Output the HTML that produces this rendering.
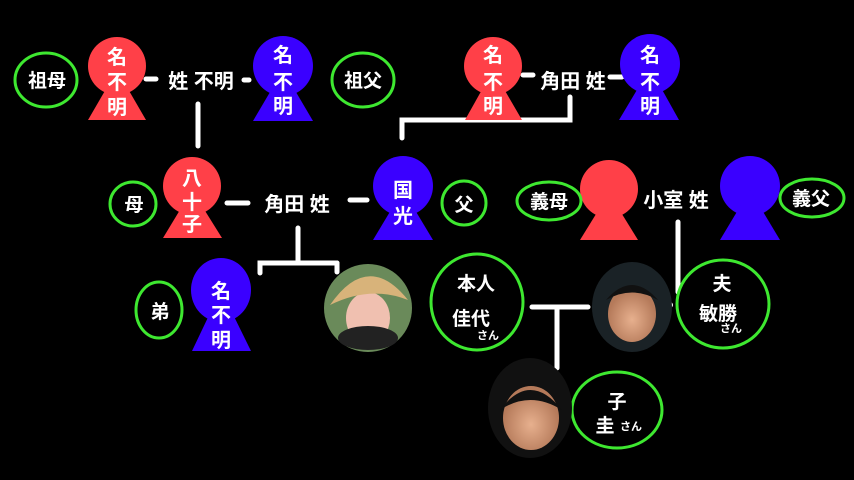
<!DOCTYPE html>
<html><head><meta charset="utf-8"><style>
html,body{margin:0;padding:0;background:#000;}
svg{display:block}
text{font-family:"Liberation Sans","Noto Sans CJK JP",sans-serif;font-weight:bold;fill:#fff;text-anchor:middle}
</style></head><body>
<svg width="854" height="480" viewBox="0 0 854 480" xmlns="http://www.w3.org/2000/svg">
<rect width="854" height="480" fill="#000"/>
<defs>
<radialGradient id="skin" cx="50%" cy="60%" r="50%"><stop offset="0" stop-color="#e7b08e"/><stop offset="1" stop-color="#b57a5a"/></radialGradient>
</defs>
<g stroke="#fff" stroke-width="5" stroke-linecap="round" fill="none">
<line x1="146" y1="79" x2="156" y2="79"/><line x1="244" y1="80" x2="249" y2="80"/>
<line x1="198" y1="104" x2="198" y2="146"/>
<line x1="227" y1="203" x2="248" y2="203"/><line x1="350" y1="200" x2="367" y2="200"/>
<polyline points="402,138 402,120 570,120 570,97"/>
<line x1="523" y1="75" x2="533" y2="75"/><line x1="610" y1="77" x2="622" y2="77"/>
<polyline points="298,228 298,263 260,263 260,273"/><line x1="298" y1="263" x2="337" y2="263"/><line x1="337" y1="263" x2="337" y2="272"/>
<line x1="678" y1="222" x2="678" y2="292"/>
<line x1="532" y1="307" x2="588" y2="307"/><line x1="557" y1="307" x2="557" y2="368"/>
</g>
<circle cx="670" cy="305" r="3" fill="#fff"/>
<g fill="#ff4048">
<circle cx="117" cy="66" r="29"/><polygon points="117,70 88,120 146,120"/>
<circle cx="192" cy="186" r="29"/><polygon points="192,190 163,238 222,238"/>
<circle cx="493" cy="66" r="29"/><polygon points="493,70 465,120 522,120"/>
<circle cx="609" cy="189" r="29"/><polygon points="609,193 580,240 638,240"/>
</g>
<g fill="#3a00ff">
<circle cx="283" cy="66" r="30"/><polygon points="283,70 253,121 313,121"/>
<circle cx="403" cy="186" r="30"/><polygon points="403,190 373,240 433,240"/>
<circle cx="650" cy="64" r="30"/><polygon points="650,68 619,120 679,120"/>
<circle cx="750" cy="186" r="30"/><polygon points="750,190 720,240 780,240"/>
<ellipse cx="221" cy="290" rx="30" ry="32"/><polygon points="221,290 192,351 251,351"/>
</g>
<g font-size="20">
<text x="117" y="64">名</text><text x="117" y="89">不</text><text x="117" y="114">明</text>
<text x="283" y="62">名</text><text x="283" y="89">不</text><text x="283" y="113">明</text>
<text x="493" y="62">名</text><text x="493" y="89">不</text><text x="493" y="113">明</text>
<text x="650" y="62">名</text><text x="650" y="89">不</text><text x="650" y="113">明</text>
<text x="192" y="185">八</text><text x="192" y="209">十</text><text x="192" y="231">子</text>
<text x="403" y="197">国</text><text x="403" y="223">光</text>
<text x="221" y="298">名</text><text x="221" y="322">不</text><text x="221" y="347">明</text>
<text x="201" y="88">姓 不明</text>
<text x="297" y="211">角田 姓</text>
<text x="573" y="88">角田 姓</text>
<text x="676" y="207">小室 姓</text>
</g>
<g fill="#000" stroke="#3ee830" stroke-width="3">
<ellipse cx="46" cy="80" rx="31" ry="27"/>
<ellipse cx="363" cy="80" rx="31" ry="27"/>
<ellipse cx="133" cy="204" rx="23" ry="22"/>
<ellipse cx="464" cy="203" rx="22" ry="22"/>
<ellipse cx="549" cy="201" rx="32" ry="19"/>
<ellipse cx="812" cy="198" rx="32" ry="19"/>
<ellipse cx="159" cy="310" rx="23" ry="28"/>
<ellipse cx="477" cy="302" rx="46" ry="48"/>
<ellipse cx="723" cy="304" rx="46" ry="44"/>
<ellipse cx="617" cy="410" rx="45" ry="38"/>
</g>
<g font-size="19">
<text x="47" y="87">祖母</text><text x="363" y="87">祖父</text>
<text x="134" y="211">母</text><text x="464" y="211">父</text>
<text x="549" y="208">義母</text><text x="811" y="205">義父</text>
<text x="160" y="318">弟</text>
<text x="476" y="290">本人</text><text x="471" y="325">佳代</text>
<text x="722" y="290">夫</text><text x="718" y="320">敏勝</text>
<text x="617" y="408">子</text><text x="605" y="432">圭</text>
</g>
<g font-size="11" font-weight="normal">
<text x="488" y="339">さん</text><text x="731" y="332">さん</text><text x="631" y="430">さん</text>
</g>
<ellipse cx="368" cy="308" rx="44" ry="44" fill="#6a8a5a"/>
<ellipse cx="368" cy="318" rx="22" ry="26" fill="#f0c0b0"/>
<path d="M330,305 Q368,250 408,300 Q370,285 330,305Z" fill="#d8b37a"/>
<ellipse cx="368" cy="338" rx="30" ry="12" fill="#222"/>
<ellipse cx="632" cy="307" rx="40" ry="45" fill="#1a2226"/>
<ellipse cx="632" cy="314" rx="24" ry="28" fill="url(#skin)"/>
<path d="M606,300 Q632,270 658,300 Q632,285 606,300Z" fill="#111"/>
<ellipse cx="530" cy="408" rx="42" ry="50" fill="#111"/>
<ellipse cx="531" cy="418" rx="28" ry="32" fill="url(#skin)"/>
<path d="M500,410 Q530,370 562,410 Q530,390 500,410Z" fill="#111"/>
</svg>
</body></html>
